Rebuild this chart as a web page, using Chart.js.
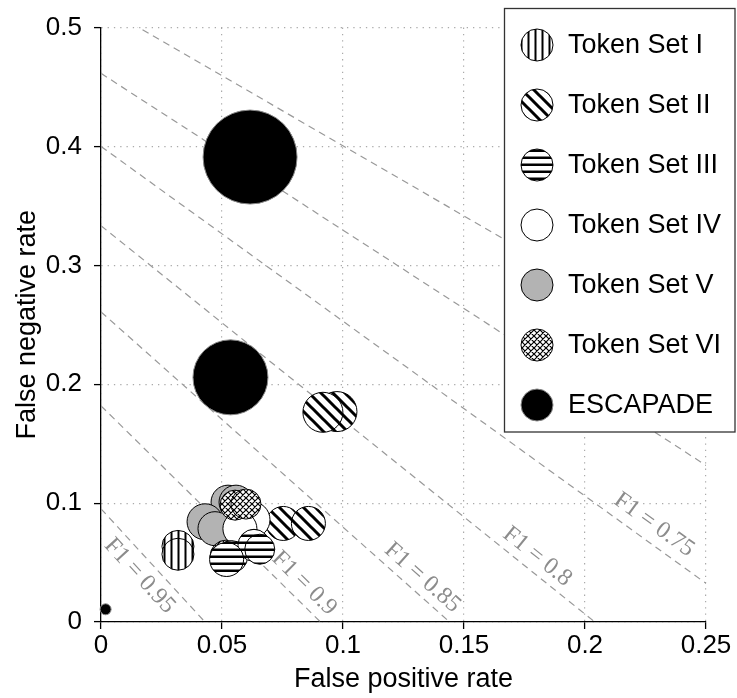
<!DOCTYPE html>
<html>
<head>
<meta charset="utf-8">
<script src="https://cdn.jsdelivr.net/npm/chart.js@4.4.0/dist/chart.umd.min.js"></script>
<style>
  html, body { margin: 0; padding: 0; background: #fff; }
</style>
</head>
<body>
<canvas id="rateChart" width="737" height="698"></canvas>
<script>
// each point: x = false positive rate, y = false negative rate, r = marker size
const tokenSet1 = [
  { x: 0.0318, y: 0.0636, r: 16 },
  { x: 0.0318, y: 0.0570, r: 16 }
];
const tokenSet2 = [
  { x: 0.0975, y: 0.1770, r: 20 },
  { x: 0.0917, y: 0.1764, r: 20 },
  { x: 0.0753, y: 0.0829, r: 17 },
  { x: 0.0857, y: 0.0829, r: 17 }
];
const tokenSet3 = [
  { x: 0.0540, y: 0.0550, r: 16 },
  { x: 0.0632, y: 0.0645, r: 16 },
  { x: 0.0519, y: 0.0526, r: 17 },
  { x: 0.0656, y: 0.0612, r: 15 }
];
const tokenSet4 = [
  { x: 0.0624, y: 0.0860, r: 18 },
  { x: 0.0574, y: 0.0785, r: 17 }
];
const tokenSet5 = [
  { x: 0.0525, y: 0.1008, r: 17 },
  { x: 0.0558, y: 0.1008, r: 17 },
  { x: 0.0430, y: 0.0843, r: 18 },
  { x: 0.0471, y: 0.0785, r: 17 }
];
const tokenSet6 = [
  { x: 0.0517, y: 0.0554, r: 16 },
  { x: 0.0554, y: 0.0983, r: 15 },
  { x: 0.0599, y: 0.0992, r: 15 }
];
const escapade = [
  { x: 0.0616, y: 0.3911, r: 47 },
  { x: 0.0535, y: 0.2058, r: 37.5 },
  { x: 0.0019, y: 0.0107, r: 5.5 }
];

const seriesNames = ['Token Set I', 'Token Set II', 'Token Set III', 'Token Set IV',
                     'Token Set V', 'Token Set VI', 'ESCAPADE'];

// iso-F1 guide lines; negatives per positive in the test set
const f1Levels = [0.65, 0.7, 0.75, 0.8, 0.85, 0.9, 0.95];
const negPerPos = 2.45;
const labelledLevels = [0.75, 0.8, 0.85, 0.9, 0.95];

const xTickLabels = ['0', '0.05', '0.1', '0.15', '0.2', '0.25'];
const yTickLabels = ['0', '0.1', '0.2', '0.3', '0.4', '0.5'];

const SANS = "'Liberation Sans', Arial, sans-serif";
const SERIF = "'Liberation Serif', 'Times New Roman', serif";

// y = b0 * (1 - x / a0)
function isoF1(f) {
  const b0 = 2 * (1 - f) / (2 - f);
  const a0 = 2 * (1 - f) / (negPerPos * f);
  return { a0, b0 };
}

// hatch fills
function makeTile(size, draw) {
  const c = document.createElement('canvas');
  c.width = size; c.height = size;
  const g = c.getContext('2d');
  g.fillStyle = '#fff';
  g.fillRect(0, 0, size, size);
  g.fillStyle = '#000';
  g.strokeStyle = '#000';
  draw(g, size);
  return c;
}
const ctx = document.getElementById('rateChart').getContext('2d');

const vertLines = ctx.createPattern(makeTile(7, (g, s) => g.fillRect(2.5, 0, 2, s)), 'repeat');
const horizLines = ctx.createPattern(makeTile(7, (g, s) => g.fillRect(0, 2.5, s, 2.5)), 'repeat');
const nwLines = ctx.createPattern(makeTile(12, (g, s) => {
  g.lineWidth = 3;
  g.beginPath();
  for (let k = -1; k <= 1; k++) {
    g.moveTo(k * s - 2, -2);
    g.lineTo(k * s + s + 2, s + 2);
  }
  g.stroke();
}), 'repeat');
const crossHatch = ctx.createPattern(makeTile(6, (g, s) => {
  g.lineWidth = 1.2;
  g.beginPath();
  for (let k = -1; k <= 1; k++) {
    g.moveTo(k * s - 1, -1);
    g.lineTo(k * s + s + 1, s + 1);
    g.moveTo(k * s - 1, s + 1);
    g.lineTo(k * s + s + 1, -1);
  }
  g.stroke();
}), 'repeat');

const fills = [vertLines, nwLines, horizLines, '#ffffff', '#b3b3b3', crossHatch, '#000000'];
const edges = ['#000', '#000', '#000', '#000', '#000', '#000', '#888'];
const pointSets = [tokenSet1, tokenSet2, tokenSet3, tokenSet4, tokenSet5, tokenSet6, escapade];
// stacking: lower order sits on top
const stackOrder = [6, 5, 1, 3, 4, 2, 7];

const bubbleSets = pointSets.map((pts, i) => ({
  type: 'bubble',
  label: seriesNames[i],
  data: pts,
  backgroundColor: fills[i],
  borderColor: edges[i],
  borderWidth: 1,
  order: stackOrder[i],
  clip: false
}));

const guideSets = f1Levels.map(f => {
  const { a0, b0 } = isoF1(f);
  return {
    type: 'line',
    label: 'F1 = ' + f,
    data: [{ x: 0, y: b0 }, { x: a0, y: 0 }],
    borderColor: '#999',
    borderWidth: 1.2,
    borderDash: [7, 5],
    pointRadius: 0,
    fill: false,
    order: 100,
    guide: true
  };
});

// where each F1 label sits along its line, and how far off it (px, + = above)
const labelSpots = {
  0.95: { x: 0.0211, off: -17 },
  0.9: { x: 0.0793, off: 16 },
  0.85: { x: 0.1287, off: 15 },
  0.8: { x: 0.1764, off: 15 },
  0.75: { x: 0.2244, off: 17 }
};

const f1Labels = {
  id: 'f1Labels',
  beforeDatasetsDraw(chart) {
    const { ctx, scales: { x, y } } = chart;
    ctx.save();
    ctx.beginPath();
    ctx.rect(chart.chartArea.left, chart.chartArea.top,
             chart.chartArea.right - chart.chartArea.left,
             chart.chartArea.bottom - chart.chartArea.top);
    ctx.clip();
    ctx.fillStyle = '#8c8c8c';
    ctx.font = '24px ' + SERIF;
    ctx.textAlign = 'center';
    ctx.textBaseline = 'middle';
    labelledLevels.forEach(f => {
      const { a0, b0 } = isoF1(f);
      const spot = labelSpots[f];
      const px = x.getPixelForValue(spot.x);
      const py = y.getPixelForValue(b0 * (1 - spot.x / a0));
      const ang = Math.atan2(y.getPixelForValue(0) - y.getPixelForValue(b0),
                             x.getPixelForValue(a0) - x.getPixelForValue(0));
      const nx = Math.sin(ang), ny = -Math.cos(ang);
      ctx.save();
      ctx.translate(px + nx * spot.off, py + ny * spot.off);
      ctx.rotate(ang);
      ctx.fillText('F1 = ' + f, 0, 0);
      ctx.restore();
    });
    ctx.restore();
  }
};

const boxLegend = {
  id: 'boxLegend',
  afterDraw(chart) {
    const ctx = chart.ctx;
    const left = 504.5, top = 8.5, right = 735, bottom = 432;
    ctx.save();
    ctx.fillStyle = '#fff';
    ctx.fillRect(left, top, right - left, bottom - top);
    ctx.strokeStyle = '#333';
    ctx.lineWidth = 1.3;
    ctx.strokeRect(left, top, right - left, bottom - top);
    ctx.font = '27px ' + SANS;
    ctx.textBaseline = 'middle';
    ctx.textAlign = 'left';
    chart.data.datasets.filter(d => !d.guide).forEach((d, i) => {
      const cy = 45 + i * 60;
      ctx.beginPath();
      ctx.arc(537, cy, 16, 0, Math.PI * 2);
      ctx.fillStyle = d.backgroundColor;
      ctx.fill();
      ctx.lineWidth = 1;
      ctx.strokeStyle = d.borderColor;
      ctx.stroke();
      ctx.fillStyle = '#000';
      ctx.fillText(d.label, 568, cy + 1);
    });
    ctx.restore();
  }
};

const axisStyle = {
  grid: { color: '#aaa', lineWidth: 1.2, tickColor: '#000', tickWidth: 1.3, tickLength: 7 },
  border: { display: true, color: '#000', width: 1.3, dash: [1.3, 5] }
};

new Chart(ctx, {
  type: 'bubble',
  data: { datasets: [...bubbleSets, ...guideSets] },
  options: {
    responsive: false,
    animation: false,
    events: [],
    layout: { autoPadding: false, padding: { left: 0, top: 17, right: 31, bottom: 0 } },
    plugins: { legend: { display: false }, tooltip: { enabled: false } },
    scales: {
      x: {
        type: 'linear', min: 0, max: 0.25,
        ...axisStyle,
        ticks: {
          stepSize: 0.05, padding: 1, color: '#000',
          font: { family: SANS, size: 26 },
          callback: (v, i) => xTickLabels[i]
        },
        title: { display: true, text: 'False positive rate', color: '#000',
                 font: { family: SANS, size: 27 }, padding: { top: 0, bottom: 2 } },
        afterFit: s => { s.height = 76; }
      },
      y: {
        type: 'linear', min: 0, max: 0.5,
        ...axisStyle,
        ticks: {
          stepSize: 0.1, padding: 12, color: '#000',
          font: { family: SANS, size: 26 },
          callback: (v, i) => yTickLabels[i]
        },
        title: { display: true, text: 'False negative rate', color: '#000',
                 font: { family: SANS, size: 27 }, padding: { top: 11, bottom: 0 } },
        afterFit: s => { s.width = 101; }
      }
    }
  },
  plugins: [f1Labels, boxLegend]
});
</script>
</body>
</html>
